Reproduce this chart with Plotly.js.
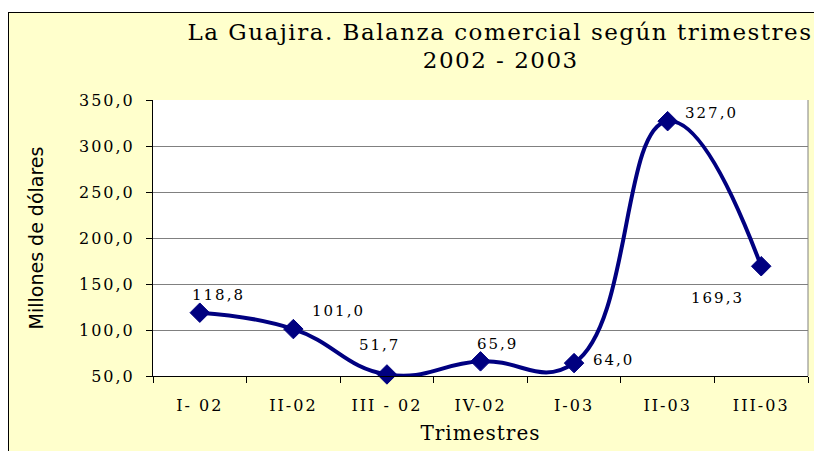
<!DOCTYPE html>
<html>
<head>
<meta charset="utf-8">
<script src="https://cdn.plot.ly/plotly-3.0.1.min.js"></script>
<style>
body { margin:0; padding:0; background:#ffffff; width:814px; height:451px; overflow:hidden; position:relative; }
#frame { position:absolute; left:8px; top:12px; width:806px; height:439px; border-left:1px solid #000; border-top:1px solid #000; background:#FFFFCC; }
#chart { position:absolute; left:0; top:0; width:805px; height:438px; }
#chart .xtick text, #chart .ytick text, #chart .annotation-text { letter-spacing: 2px; }
#chart .annotation:nth-last-of-type(-n+2) .annotation-text { letter-spacing: 1.5px; }
#chart .xtitle { letter-spacing: 1px; }
</style>
</head>
<body>
<div id="frame"><div id="chart"></div></div>
<script>
const categories = ["I- 02", "II-02", "III - 02", "IV-02", "I-03", "II-03", "III-03"];
const values = [118.8, 101.0, 51.7, 65.9, 64.0, 327.0, 169.3];
const yTicks = [50, 100, 150, 200, 250, 300, 350];
const labelTexts = ["118,8", "101,0", "51,7", "65,9", "64,0", "327,0", "169,3"];
const titleLines = ["La Guajira. Balanza comercial según trimestres", "2002 - 2003"];

// label offsets (styling only)
const labelShiftX = [19, 45, -7, 17, 39, 44, -44];
const labelShiftY = [18, 18, 29, 17, 3, 8, -32];

const serif = "DejaVu Serif, Liberation Serif, serif";
const navy = "#000080";

const trace = {
  type: "scatter",
  mode: "lines+markers",
  x: categories,
  y: values,
  line: { color: navy, width: 4, shape: "spline", smoothing: 1.3 },
  marker: { symbol: "diamond", size: 15, color: navy, line: { color: navy, width: 1 } },
  cliponaxis: false,
  hoverinfo: "skip"
};

const annotations = categories.map((c, i) => ({
  x: c, y: values[i], xref: "x", yref: "y",
  text: labelTexts[i], showarrow: false,
  xshift: labelShiftX[i], yshift: labelShiftY[i],
  font: { family: serif, size: 15, color: "#000" }
}));
annotations.push({
  x: 0.53, y: 1.246, xref: "paper", yref: "paper", xanchor: "center", yanchor: "middle",
  text: titleLines[0], showarrow: false, font: { family: serif, size: 23, color: "#000" }
});
annotations.push({
  x: 0.53, y: 1.145, xref: "paper", yref: "paper", xanchor: "center", yanchor: "middle",
  text: titleLines[1], showarrow: false, font: { family: serif, size: 23, color: "#000" }
});

const layout = {
  width: 805, height: 438,
  margin: { l: 144, r: 6, t: 87, b: 75 },
  paper_bgcolor: "rgba(0,0,0,0)",
  plot_bgcolor: "#ffffff",
  showlegend: false,
  separators: ",.",
  xaxis: {
    type: "category",
    range: [-0.5, 6.5],
    tickson: "boundaries",
    ticks: "outside", ticklen: 6, tickcolor: "#000",
    ticklabelstandoff: 15,
    showline: true, linecolor: "#000", linewidth: 1,
    showgrid: false, zeroline: false,
    tickfont: { family: serif, size: 16, color: "#000" },
    title: { text: "Trimestres", font: { family: serif, size: 20, color: "#000" }, standoff: 11 }
  },
  yaxis: {
    range: [50, 350],
    tickvals: yTicks,
    tickformat: ".1f",
    ticks: "outside", ticklen: 6, tickcolor: "#000",
    ticklabelstandoff: 8,
    showline: true, linecolor: "#000", linewidth: 1,
    showgrid: true, gridcolor: "#808080", gridwidth: 1,
    zeroline: false,
    tickfont: { family: serif, size: 16, color: "#000" },
    title: { text: "Millones de dólares", font: { family: "DejaVu Sans, sans-serif", size: 19, color: "#000" }, standoff: 40 }
  },
  shapes: [
    { type: "line", xref: "paper", yref: "paper", x0: 1, x1: 1, y0: 0, y1: 1, line: { color: "#808080", width: 1 } }
  ],
  annotations: annotations
};

Plotly.newPlot("chart", [trace], layout, { staticPlot: true, displayModeBar: false });
</script>
</body>
</html>
